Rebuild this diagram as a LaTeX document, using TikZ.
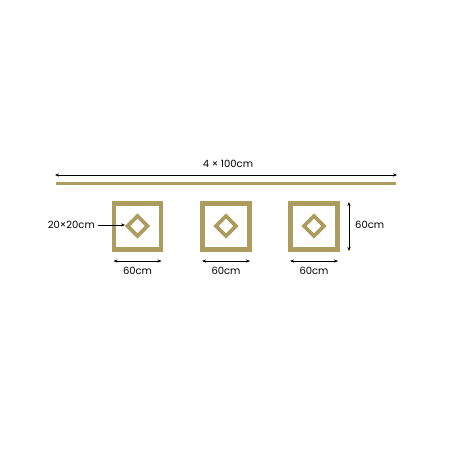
\documentclass[tikz,border=0pt]{standalone}
\usepackage{fontspec}
\setmainfont{Poppins}
\usetikzlibrary{arrows.meta}
\definecolor{gold}{RGB}{172,156,96}
\begin{document}
\begin{tikzpicture}[x=1pt,y=-1pt,
  frame/.style={draw=gold,line width=4.2pt},
  diam/.style={draw=gold,line width=3.6pt},
  dim/.style={line width=0.6pt,{Stealth[length=4pt,width=3.2pt]}-{Stealth[length=4pt,width=3.2pt]}},
  ptr/.style={line width=0.6pt,-{Stealth[length=4pt,width=3.2pt]}},
  lbl/.style={font=\fontsize{10}{12}\selectfont,inner sep=0pt}]
\useasboundingbox (0,0) rectangle (452,452);
% rod
\draw[gold,line width=3pt] (56,183) -- (396,183);
\coordinate (tl) at (55,175); \coordinate (tr) at (397,175);
\draw[dim] (tl) -- (tr);
\node[lbl] (tt) at (228,164) {4 × 100cm};
% squares
\foreach \c/\n in {137.5/a,226/b,314/c}{
  \draw[frame] (\c-23.5,203.5) rectangle (\c+23.5,249.5);
  \draw[diam] (\c-10,226) -- (\c,216) -- (\c+10,226) -- (\c,236) -- cycle;
  \coordinate (\n l) at (\c-24,261);
  \coordinate (\n r) at (\c+24,261);
  \draw[dim] (\n l) -- (\n r);
  \node[lbl] (\n t) at (\c,271) {60cm};
}
% pointer
\node[lbl,anchor=east] (p) at (95,225) {20×20cm};
\coordinate (pe) at (125,225);
\draw[ptr] (p.east)++(3,0) -- (pe);
% vertical
\coordinate (vt) at (349,202); \coordinate (vb) at (349,251);
\draw[dim] (vt) -- (vb);
\node[lbl,anchor=west] (vl) at (355,225) {60cm};
\end{tikzpicture}
\end{document}
